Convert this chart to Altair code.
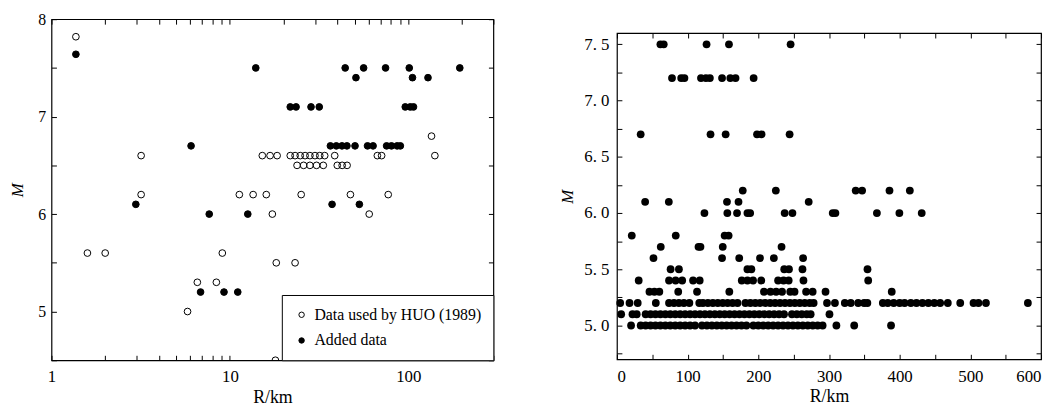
import altair as alt
import pandas as pd

FONT = "Liberation Serif"

# ---------------- left panel (log R) ----------------
series_names = ["Data used by HUO (1989)", "Added data"]

huo_R = [1.37, 1.59, 2.0, 3.18, 3.18, 5.79, 6.57, 8.4, 9.07,
         11.3, 13.5, 16.0, 25.1, 47.4, 77.2,
         17.3, 60.4, 18.2, 23.2, 18.0,
         15.2, 16.8, 18.4, 21.8, 23.2, 24.8, 26.4, 28.1, 30.0, 31.9, 34.0, 38.7, 67.1, 70.9, 141,
         23.8, 25.9, 28.1, 30.6, 33.4, 40.0, 42.6, 45.4,
         135]
huo_M = [7.82, 5.6, 5.6, 6.6, 6.2, 5.0, 5.3, 5.3, 5.6,
         6.2, 6.2, 6.2, 6.2, 6.2, 6.2,
         6.0, 6.0, 5.5, 5.5, 4.5,
         6.6, 6.6, 6.6, 6.6, 6.6, 6.6, 6.6, 6.6, 6.6, 6.6, 6.6, 6.6, 6.6, 6.6, 6.6,
         6.5, 6.5, 6.5, 6.5, 6.5, 6.5, 6.5, 6.5,
         6.8]

added_R = [1.37, 2.97, 6.06, 7.66, 12.6, 6.85, 9.27, 11.07, 13.97, 37.4, 53.2,
           44.3, 56.2, 74.6, 101.3, 194.5,
           50.9, 105.6, 129,
           21.8, 23.5, 28.5, 31.7, 96.2, 102.6, 107,
           36.6, 39.5, 42.5, 45.3, 50.3, 59.1, 63.5, 75.6, 80.5, 86.6, 90.3]
added_M = [7.64, 6.1, 6.7, 6.0, 6.0, 5.2, 5.2, 5.2, 7.5, 6.1, 6.1,
           7.5, 7.5, 7.5, 7.5, 7.5,
           7.4, 7.4, 7.4,
           7.1, 7.1, 7.1, 7.1, 7.1, 7.1, 7.1,
           6.7, 6.7, 6.7, 6.7, 6.7, 6.7, 6.7, 6.7, 6.7, 6.7, 6.7]

left_x_ticks = [1, 2, 3, 4, 5, 6, 7, 8, 9, 10, 20, 30, 40, 50, 60, 70, 80, 90, 100, 200, 300]
left_y_ticks = [4.5, 5, 5.5, 6, 6.5, 7, 7.5, 8]

# ---------------- right panel (linear R) ----------------
right_rows = {
    7.5: [61.5, 66.2, 126.8, 158.5, 245.7],
    7.2: [77.9, 90.9, 95.5, 118.9, 125.9, 131.5, 148.7, 160.4, 167.8, 193.4],
    6.7: [33.6, 132.4, 153.8, 198.2, 204.6, 244.3],
    6.2: [178, 224.8, 337.8, 346.9, 385.6, 414.4],
    6.1: [39.9, 73.4, 155.7, 172, 271.3],
    6.0: [123.8, 156.2, 169.9, 184.6, 188.5, 237.3, 248.3, 305.3, 309.1, 367.8, 399.6, 431.2],
    5.8: [21, 83.2, 152.4, 158],
    5.7: [62, 115.4, 118.2, 149.7, 232.9],
    5.6: [51.7, 148.7, 173, 202.4, 222, 263.4],
    5.5: [75.9, 87.7, 184.6, 190.2, 236.7, 243.4, 262.5, 354.5],
    5.4: [30.8, 73.7, 83, 92.3, 107.7, 117.1, 176.6, 184.6, 192.6, 204.2, 228, 235.7, 243, 263.9, 355.5],
    5.3: [46, 53, 60, 86.7, 113.3, 159, 208, 217.2, 225.2, 233.6, 245.2, 251.3, 267.6, 276.9, 295.1, 388.8],
    5.2: [4.6, 17.8, 29.4, 55, 73.7, 80.7, 87.7, 94.7, 102.5, 116.5, 121.7, 128.7, 135.7, 142.7,
          149.7, 156.6, 163.6, 170.6, 181.8, 188.8, 195.8, 202.8, 209.8, 216.8, 223.8, 230.8, 237.8,
          244.8, 251.7, 258.7, 265.7, 272.7, 278.3, 297.2, 308.4, 322.4, 330.8, 341.3, 349.7, 354.3,
          376.2, 383.2, 391.6, 400, 407, 415.8, 423.8, 432.2, 440.6, 449, 457.3, 468.1, 485.7, 504.5,
          511.5, 522.1, 581.4],
    5.1: [6, 22, 28, 40.6, 47.6, 54.5, 61.5, 68.5, 75.5, 82.5, 89.5, 96.5, 103.5, 110.5, 117.5, 124.5,
          131.5, 138.5, 145.5, 152.4, 159.4, 166.4, 173.4, 180.4, 187.4, 194.4, 201.4, 208.4, 215.4,
          222.4, 229.4, 236.4, 247.6, 254.5, 261.5, 268.5, 274.1, 300.7],
    5.0: [20, 33.6, 40.6, 47.6, 54.5, 61.5, 68.5, 75.5, 82.5, 89.5, 96.5, 103.5, 110.5, 120.3, 127.3,
          134.3, 141.3, 148.3, 155.2, 162.2, 169.2, 176.2, 183.2, 193, 200, 207, 214, 221, 228, 235,
          242, 249, 256, 263, 270, 277, 284, 291, 310.5, 335.7, 387.8],
}

right_x_ticks = list(range(0, 601, 50))
right_y_ticks = [4.75, 5.0, 5.25, 5.5, 5.75, 6.0, 6.25, 6.5, 6.75, 7.0, 7.25, 7.5]

# ---------------- frames ----------------
left_df = pd.DataFrame({
    "R": huo_R + added_R,
    "M": huo_M + added_M,
    "series": [series_names[0]] * len(huo_R) + [series_names[1]] * len(added_R),
})

r_list, m_list = [], []
for m, rs in right_rows.items():
    r_list += rs
    m_list += [m] * len(rs)
right_df = pd.DataFrame({"R": r_list, "M": m_list})

# ---------------- left chart ----------------
lx = alt.Scale(type="log", domain=[1, 300])
ly = alt.Scale(domain=[4.5, 8])

lab_expr_lx = "indexof([1, 10, 100], datum.value) >= 0 ? format(datum.value, 'd') : ''"
lab_expr_ly = "datum.value % 1 == 0 ? format(datum.value, 'd') : ''"

left_pts = alt.Chart(left_df).mark_point(
    filled=True, stroke="black", strokeWidth=1, size=46, opacity=1, clip=True
).encode(
    x=alt.X("R:Q", scale=lx, axis=alt.Axis(
        values=left_x_ticks, labelExpr=lab_expr_lx, title="R/km", offset=-5, tickSize=5,
        domain=False, labelFlush=False, labelPadding=9, labelFontSize=17, titleFontSize=18,
        titlePadding=4, titleFontWeight="normal")),
    y=alt.Y("M:Q", scale=ly, axis=alt.Axis(
        values=left_y_ticks, labelExpr=lab_expr_ly, title="M", offset=-5, tickSize=5,
        domain=False, labelPadding=6, labelFontSize=16, titleFontSize=17, titleFontStyle="italic",
        titleFontWeight="normal", titlePadding=11)),
    fill=alt.Fill("series:N", scale=alt.Scale(domain=series_names, range=["transparent", "black"]),
                  legend=alt.Legend(title=None, orient="bottom-right", offset=0, strokeColor="black",
                                    fillColor="white", padding=12, labelFont=FONT, labelFontSize=16,
                                    labelLimit=0, symbolSize=30, symbolStrokeColor="black",
                                    symbolStrokeWidth=1, rowPadding=10, labelOffset=5,
                                    symbolType="circle")),
)

left_mirror = alt.Chart(left_df).mark_point(opacity=0).encode(
    x=alt.X("R:Q", scale=lx, axis=alt.Axis(orient="top", values=left_x_ticks, labels=False, title="",
                                          offset=-5, tickSize=5, domain=False)),
    y=alt.Y("M:Q", scale=ly, axis=alt.Axis(orient="right", values=left_y_ticks, labels=False, title="",
                                          offset=-5, tickSize=5, domain=False)),
)

left = alt.layer(left_pts, left_mirror).resolve_axis(x="independent", y="independent").properties(
    width=447, height=345)

# ---------------- right chart ----------------
rx = alt.Scale(domain=[0, 600])
ry = alt.Scale(domain=[4.7, 7.6])

lab_expr_rx = "datum.value % 100 == 0 ? format(datum.value, 'd') : ''"
lab_expr_ry = "(datum.value * 2) % 1 == 0 ? replace(format(datum.value, '.1f'), '.', '. ') : ''"

right_pts = alt.Chart(right_df).mark_circle(size=62, color="black", opacity=1).encode(
    x=alt.X("R:Q", scale=rx, axis=alt.Axis(
        values=right_x_ticks, labelExpr=lab_expr_rx, title="R/km", offset=-5, tickSize=5,
        domain=False, labelFlush=True, labelPadding=9, labelFontSize=17, titleFontSize=18,
        titlePadding=4, titleFontWeight="normal")),
    y=alt.Y("M:Q", scale=ry, axis=alt.Axis(
        values=right_y_ticks, labelExpr=lab_expr_ry, title="M", offset=-5, tickSize=5,
        domain=False, labelPadding=8, labelFontSize=17, titleFontSize=17, titleFontStyle="italic",
        titleFontWeight="normal", titlePadding=7)),
)

right_mirror = alt.Chart(right_df).mark_point(opacity=0).encode(
    x=alt.X("R:Q", scale=rx, axis=alt.Axis(orient="top", values=right_x_ticks, labels=False, title="",
                                          offset=-5, tickSize=5, domain=False)),
    y=alt.Y("M:Q", scale=ry, axis=alt.Axis(orient="right", values=right_y_ticks, labels=False, title="",
                                          offset=-5, tickSize=5, domain=False)),
)

right = alt.layer(right_pts, right_mirror).resolve_axis(x="independent", y="independent").properties(
    width=429, height=330)

spacer = alt.Chart(pd.DataFrame({"a": [0]})).mark_rule(opacity=0).encode(
    x=alt.value(0), x2=alt.value(1), y=alt.value(0)
).properties(width=429, height=1, view=alt.ViewBackground(stroke="transparent"))

right_col = alt.vconcat(spacer, right, spacing=10)

chart = alt.hconcat(left, right_col, spacing=63).resolve_legend(fill="independent").properties(
    padding=0
).configure(
    background="white"
).configure_view(
    stroke="black", strokeWidth=1.2
).configure_axis(
    labelFont=FONT, titleFont=FONT, labelColor="black", titleColor="black",
    tickColor="black", domainColor="black", grid=False
)

chart.save("out.html", embed_options={"renderer": "svg", "actions": False})
